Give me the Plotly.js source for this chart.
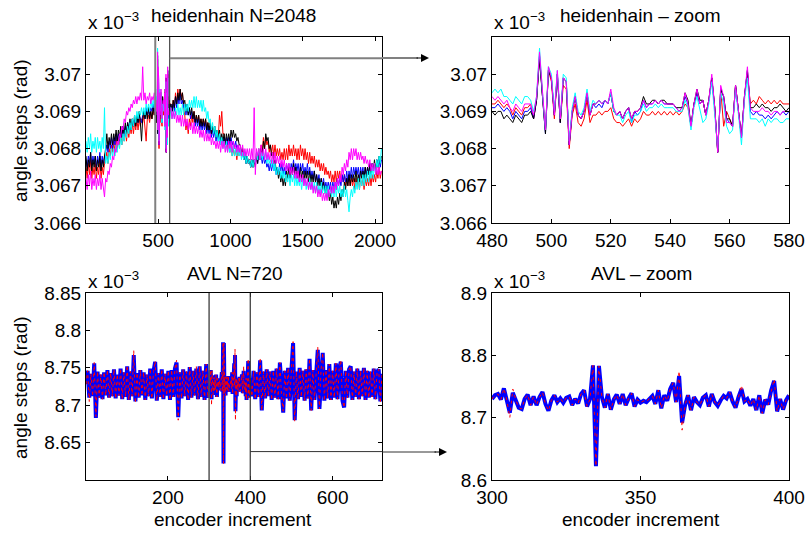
<!DOCTYPE html>
<html><head><meta charset="utf-8">
<script src="https://cdn.plot.ly/plotly-3.0.1.min.js"></script>
<style>html,body{margin:0;padding:0;background:#fff}#chart{width:807px;height:533px}</style>
</head><body><div id="chart"></div>
<script>
// ---------- heidenhain N=2048 (values in units of 1e-3 rad) ----------
const heidStep = 8, heidLeftStart = 1, heidZoomStart = 480, heidRightStart = 588;
const redL = [3.0675,3.0672,3.0676,3.0673,3.0677,3.0672,3.0675,3.0673,3.0676,3.0672,
3.0675,3.0673,3.0677,3.0672,3.0675,3.0673,3.0676,3.0677,3.0679,3.0676,
3.0680,3.0678,3.0681,3.0679,3.0682,3.0679,3.0683,3.0680,3.0683,3.0681,
3.0684,3.0681,3.0684,3.0682,3.0685,3.0682,3.0686,3.0683,3.0686,3.0684,
3.0687,3.0684,3.0687,3.0685,3.0688,3.0685,3.0688,3.0686,3.0688,3.0687,
3.0689,3.0686,3.0682,3.0688,3.0689,3.0687,3.0690,3.0688,3.0690,3.0689];
const blueL = [3.0677,3.0675,3.0678,3.0676,3.0679,3.0675,3.0678,3.0676,3.0678,3.0675,
3.0678,3.0676,3.0679,3.0675,3.0678,3.0676,3.0678,3.0679,3.0681,3.0679,
3.0682,3.0680,3.0683,3.0680,3.0683,3.0681,3.0684,3.0682,3.0684,3.0682,
3.0685,3.0683,3.0686,3.0683,3.0686,3.0684,3.0687,3.0685,3.0687,3.0685,
3.0688,3.0686,3.0688,3.0687,3.0689,3.0687,3.0689,3.0688,3.0687,3.0689,
3.0690,3.0688,3.0691,3.0689,3.0691,3.0689,3.0691,3.0690,3.0692,3.0690];
const blackL = [3.0678,3.0674,3.0677,3.0675,3.0679,3.0674,3.0677,3.0675,3.0678,3.0674,
3.0677,3.0675,3.0678,3.0674,3.0677,3.0675,3.0678,3.0680,3.0684,3.0680,
3.0683,3.0681,3.0684,3.0681,3.0684,3.0682,3.0685,3.0682,3.0685,3.0683,
3.0686,3.0683,3.0686,3.0684,3.0687,3.0684,3.0687,3.0685,3.0688,3.0685,
3.0688,3.0686,3.0689,3.0686,3.0689,3.0687,3.0690,3.0687,3.0682,3.0688,
3.0690,3.0688,3.0690,3.0688,3.0691,3.0688,3.0690,3.0688,3.0691,3.0689];
const cyanL = [3.0682,3.0679,3.0683,3.0680,3.0684,3.0679,3.0682,3.0680,3.0683,3.0679,
3.0683,3.0680,3.0682,3.0679,3.0683,3.0680,3.0691,3.0676,3.0678,3.0676,
3.0679,3.0677,3.0680,3.0678,3.0680,3.0678,3.0681,3.0679,3.0682,3.0680,
3.0683,3.0681,3.0684,3.0682,3.0685,3.0683,3.0686,3.0684,3.0687,3.0685,
3.0688,3.0686,3.0689,3.0687,3.0690,3.0688,3.0690,3.0689,3.0691,3.0689,
3.0691,3.0689,3.0692,3.0690,3.0692,3.0690,3.0693,3.0691,3.0693,3.0691];
const magentaL = [3.0672,3.0669,3.0673,3.0670,3.0674,3.0669,3.0672,3.0670,3.0673,3.0669,
3.0672,3.0670,3.0673,3.0669,3.0672,3.0670,3.0667,3.0672,3.0671,3.0674,
3.0673,3.0676,3.0675,3.0678,3.0677,3.0680,3.0679,3.0682,3.0681,3.0684,
3.0683,3.0686,3.0685,3.0688,3.0687,3.0690,3.0689,3.0691,3.0690,3.0692,
3.0691,3.0693,3.0692,3.0694,3.0692,3.0694,3.0693,3.0695,3.0693,3.0702,
3.0693,3.0695,3.0692,3.0694,3.0693,3.0695,3.0692,3.0694,3.0693,3.0695];

const redZ = [3.0692,3.0692,3.0693,3.0692,3.0691,3.0692,3.0691,3.0689,3.0691,3.0690,3.0689,3.0691,3.0691,3.0692,3.0688,
3.0693,3.0705,3.0694,3.0685,3.0701,3.0698,3.0688,3.0700,3.0687,3.0697,3.0696,3.0680,3.0689,3.0692,3.0687,3.0686,3.0688,3.0693,3.0687,
3.0689,3.0689,3.0690,3.0689,3.0690,3.0690,3.0691,3.0688,3.0687,3.0687,3.0686,3.0687,3.0688,3.0686,3.0688,3.0687,3.0688,
3.0690,3.0689,3.0689,3.0690,3.0689,3.0690,3.0689,3.0690,3.0689,3.0690,3.0689,3.0690,3.0689,
3.0690,3.0692,3.0691,3.0686,3.0692,3.0695,3.0692,3.0693,3.0689,3.0693,3.0699,3.0691,3.0679,3.0696,3.0686,3.0690,3.0688,3.0686,3.0697,3.0690,3.0683,3.0694,3.0700,
3.0692,3.0693,3.0692,3.0694,3.0693,3.0692,3.0693,3.0692,3.0693,3.0692,3.0693,3.0692,3.0692,3.0692];
const blueZ = [3.0691,3.0691,3.0692,3.0691,3.0690,3.0691,3.0690,3.0688,3.0690,3.0689,3.0688,3.0690,3.0690,3.0691,3.0688,
3.0693,3.0705,3.0694,3.0684,3.0701,3.0699,3.0689,3.0700,3.0687,3.0699,3.0698,3.0681,3.0690,3.0694,3.0689,3.0688,3.0690,3.0695,3.0689,
3.0692,3.0691,3.0692,3.0691,3.0693,3.0692,3.0695,3.0690,3.0689,3.0690,3.0688,3.0690,3.0691,3.0687,3.0690,3.0689,3.0690,
3.0693,3.0691,3.0692,3.0692,3.0693,3.0692,3.0693,3.0692,3.0692,3.0692,3.0692,3.0691,3.0690,
3.0691,3.0694,3.0692,3.0686,3.0692,3.0695,3.0692,3.0693,3.0689,3.0693,3.0699,3.0691,3.0679,3.0696,3.0694,3.0688,3.0687,3.0686,3.0697,3.0690,3.0683,3.0694,3.0701,
3.0690,3.0689,3.0690,3.0689,3.0689,3.0688,3.0689,3.0688,3.0689,3.0690,3.0689,3.0690,3.0689,3.0690];
const blackZ = [3.0690,3.0689,3.0690,3.0690,3.0688,3.0689,3.0688,3.0687,3.0689,3.0688,3.0687,3.0689,3.0689,3.0690,3.0688,
3.0693,3.0704,3.0694,3.0684,3.0701,3.0699,3.0689,3.0700,3.0687,3.0699,3.0698,3.0681,3.0690,3.0694,3.0689,3.0688,3.0690,3.0695,3.0689,
3.0692,3.0692,3.0693,3.0692,3.0693,3.0692,3.0695,3.0690,3.0689,3.0690,3.0688,3.0690,3.0691,3.0688,3.0690,3.0690,3.0691,
3.0694,3.0692,3.0692,3.0693,3.0693,3.0692,3.0693,3.0693,3.0692,3.0692,3.0692,3.0691,3.0691,
3.0691,3.0695,3.0693,3.0686,3.0692,3.0696,3.0693,3.0693,3.0689,3.0693,3.0699,3.0691,3.0679,3.0696,3.0694,3.0688,3.0688,3.0686,3.0697,3.0690,3.0683,3.0694,3.0701,
3.0691,3.0691,3.0692,3.0691,3.0692,3.0691,3.0691,3.0690,3.0691,3.0691,3.0692,3.0691,3.0690,3.0691];
const cyanZ = [3.0695,3.0696,3.0695,3.0696,3.0694,3.0694,3.0693,3.0692,3.0694,3.0693,3.0692,3.0694,3.0694,3.0693,3.0690,
3.0694,3.0707,3.0695,3.0685,3.0702,3.0700,3.0690,3.0701,3.0688,3.0700,3.0699,3.0682,3.0691,3.0695,3.0690,3.0689,3.0691,3.0696,3.0690,
3.0693,3.0692,3.0693,3.0692,3.0693,3.0692,3.0695,3.0690,3.0689,3.0689,3.0687,3.0689,3.0690,3.0687,3.0689,3.0689,3.0690,
3.0692,3.0690,3.0691,3.0691,3.0692,3.0691,3.0692,3.0691,3.0691,3.0691,3.0691,3.0690,3.0690,
3.0690,3.0693,3.0691,3.0685,3.0691,3.0694,3.0690,3.0687,3.0688,3.0692,3.0698,3.0690,3.0680,3.0695,3.0692,3.0686,3.0684,3.0685,3.0696,3.0689,3.0681,3.0693,3.0699,
3.0688,3.0688,3.0688,3.0687,3.0688,3.0686,3.0688,3.0687,3.0688,3.0688,3.0687,3.0687,3.0688,3.0688];
const magentaZ = [3.0694,3.0693,3.0694,3.0693,3.0692,3.0693,3.0691,3.0690,3.0692,3.0691,3.0690,3.0692,3.0692,3.0692,3.0689,
3.0694,3.0706,3.0694,3.0685,3.0702,3.0699,3.0689,3.0701,3.0688,3.0699,3.0698,3.0681,3.0690,3.0694,3.0689,3.0688,3.0690,3.0695,3.0689,
3.0692,3.0692,3.0693,3.0692,3.0693,3.0692,3.0696,3.0691,3.0689,3.0690,3.0688,3.0690,3.0691,3.0688,3.0690,3.0690,3.0691,
3.0693,3.0691,3.0692,3.0692,3.0693,3.0692,3.0693,3.0692,3.0692,3.0692,3.0692,3.0691,3.0690,
3.0691,3.0695,3.0692,3.0686,3.0692,3.0696,3.0692,3.0693,3.0689,3.0693,3.0700,3.0691,3.0679,3.0697,3.0694,3.0687,3.0687,3.0686,3.0697,3.0690,3.0683,3.0694,3.0702,
3.0691,3.0690,3.0690,3.0690,3.0691,3.0690,3.0690,3.0689,3.0690,3.0690,3.0689,3.0690,3.0690,3.0690];

const redR = [3.0692,3.0690,3.0693,3.0691,3.0695,3.0692,3.0696,3.0693,3.0696,3.0694,
3.0695,3.0691,3.0689,3.0685,3.0687,3.0684,3.0688,3.0686,3.0689,3.0687,
3.0690,3.0687,3.0689,3.0687,3.0689,3.0686,3.0688,3.0686,3.0688,3.0686,
3.0688,3.0685,3.0687,3.0685,3.0686,3.0684,3.0686,3.0684,3.0685,3.0683,
3.0685,3.0683,3.0689,3.0686,3.0690,3.0684,3.0684,3.0681,3.0683,3.0680,
3.0682,3.0679,3.0681,3.0678,3.0680,3.0678,3.0680,3.0677,3.0680,3.0678,
3.0680,3.0678,3.0680,3.0677,3.0679,3.0677,3.0678,3.0676,3.0677,3.0675,
3.0677,3.0675,3.0677,3.0676,3.0679,3.0677,3.0680,3.0678,3.0681,3.0679,
3.0683,3.0680,3.0683,3.0681,3.0682,3.0679,3.0681,3.0679,3.0681,3.0678,
3.0681,3.0678,3.0680,3.0678,3.0680,3.0677,3.0679,3.0677,3.0680,3.0677,
3.0680,3.0677,3.0681,3.0678,3.0680,3.0678,3.0681,3.0678,3.0680,3.0677,
3.0680,3.0677,3.0681,3.0678,3.0680,3.0677,3.0680,3.0677,3.0679,3.0676,
3.0679,3.0676,3.0678,3.0676,3.0678,3.0675,3.0677,3.0675,3.0677,3.0674,
3.0676,3.0674,3.0676,3.0673,3.0675,3.0673,3.0674,3.0672,3.0674,3.0671,
3.0673,3.0671,3.0674,3.0671,3.0674,3.0672,3.0674,3.0671,3.0673,3.0671,
3.0673,3.0670,3.0672,3.0670,3.0673,3.0670,3.0672,3.0670,3.0672,3.0669,
3.0672,3.0670,3.0672,3.0669,3.0672,3.0670,3.0672,3.0669,3.0672,3.0670,
3.0672,3.0670,3.0673,3.0670,3.0673,3.0671,3.0673,3.0671,3.0674,3.0672,
3.0675,3.0672,3.0674];
const blueR = [3.0692,3.0690,3.0692,3.0690,3.0694,3.0691,3.0694,3.0692,3.0695,3.0692,
3.0693,3.0691,3.0692,3.0689,3.0691,3.0689,3.0691,3.0688,3.0690,3.0688,
3.0689,3.0686,3.0688,3.0686,3.0688,3.0685,3.0687,3.0685,3.0687,3.0685,
3.0687,3.0684,3.0686,3.0684,3.0686,3.0683,3.0685,3.0683,3.0685,3.0682,
3.0684,3.0682,3.0684,3.0681,3.0683,3.0681,3.0683,3.0681,3.0683,3.0681,
3.0683,3.0681,3.0683,3.0681,3.0682,3.0680,3.0682,3.0680,3.0681,3.0679,
3.0680,3.0678,3.0679,3.0677,3.0678,3.0676,3.0678,3.0676,3.0677,3.0675,
3.0677,3.0675,3.0677,3.0676,3.0678,3.0676,3.0679,3.0677,3.0678,3.0676,
3.0678,3.0676,3.0677,3.0675,3.0676,3.0674,3.0676,3.0674,3.0676,3.0674,
3.0676,3.0673,3.0675,3.0673,3.0676,3.0674,3.0676,3.0673,3.0675,3.0673,
3.0676,3.0674,3.0676,3.0673,3.0676,3.0674,3.0677,3.0674,3.0676,3.0674,
3.0676,3.0673,3.0676,3.0674,3.0676,3.0673,3.0675,3.0673,3.0676,3.0673,
3.0675,3.0672,3.0674,3.0672,3.0674,3.0671,3.0673,3.0671,3.0673,3.0670,
3.0672,3.0670,3.0672,3.0669,3.0671,3.0669,3.0671,3.0669,3.0671,3.0668,
3.0671,3.0669,3.0671,3.0669,3.0672,3.0670,3.0672,3.0670,3.0673,3.0671,
3.0673,3.0671,3.0674,3.0671,3.0674,3.0672,3.0675,3.0672,3.0675,3.0673,
3.0675,3.0673,3.0675,3.0672,3.0675,3.0673,3.0675,3.0672,3.0675,3.0673,
3.0675,3.0673,3.0676,3.0674,3.0676,3.0674,3.0676,3.0674,3.0677,3.0675,
3.0677,3.0675,3.0677];
const blackR = [3.0692,3.0690,3.0693,3.0691,3.0694,3.0692,3.0695,3.0693,3.0696,3.0693,
3.0695,3.0692,3.0693,3.0690,3.0692,3.0689,3.0691,3.0689,3.0691,3.0688,
3.0690,3.0687,3.0689,3.0687,3.0689,3.0686,3.0688,3.0686,3.0688,3.0686,
3.0688,3.0685,3.0687,3.0685,3.0687,3.0684,3.0686,3.0684,3.0686,3.0683,
3.0685,3.0683,3.0685,3.0682,3.0684,3.0682,3.0684,3.0681,3.0684,3.0682,
3.0684,3.0682,3.0685,3.0683,3.0685,3.0683,3.0684,3.0682,3.0683,3.0681,
3.0681,3.0679,3.0680,3.0677,3.0679,3.0676,3.0678,3.0676,3.0677,3.0675,
3.0677,3.0675,3.0677,3.0675,3.0678,3.0676,3.0679,3.0677,3.0680,3.0678,
3.0682,3.0680,3.0684,3.0682,3.0683,3.0680,3.0681,3.0678,3.0679,3.0676,
3.0677,3.0674,3.0675,3.0672,3.0674,3.0671,3.0673,3.0670,3.0672,3.0670,
3.0674,3.0672,3.0675,3.0672,3.0675,3.0673,3.0676,3.0673,3.0675,3.0672,
3.0674,3.0672,3.0675,3.0672,3.0674,3.0671,3.0674,3.0672,3.0674,3.0671,
3.0674,3.0671,3.0673,3.0671,3.0674,3.0671,3.0673,3.0670,3.0672,3.0670,
3.0672,3.0669,3.0671,3.0668,3.0670,3.0667,3.0669,3.0666,3.0668,3.0665,
3.0667,3.0664,3.0666,3.0664,3.0667,3.0665,3.0668,3.0666,3.0669,3.0667,
3.0671,3.0669,3.0672,3.0670,3.0673,3.0670,3.0673,3.0671,3.0673,3.0671,
3.0674,3.0671,3.0673,3.0671,3.0674,3.0672,3.0674,3.0672,3.0675,3.0672,
3.0675,3.0673,3.0676,3.0673,3.0676,3.0674,3.0677,3.0674,3.0677,3.0675,
3.0678,3.0676,3.0678];
const cyanR = [3.0691,3.0688,3.0690,3.0688,3.0691,3.0689,3.0692,3.0689,3.0691,3.0689,
3.0692,3.0689,3.0692,3.0690,3.0692,3.0690,3.0693,3.0691,3.0693,3.0691,
3.0694,3.0691,3.0694,3.0691,3.0693,3.0691,3.0693,3.0690,3.0693,3.0690,
3.0691,3.0688,3.0690,3.0687,3.0688,3.0685,3.0687,3.0684,3.0686,3.0683,
3.0685,3.0682,3.0684,3.0681,3.0683,3.0680,3.0682,3.0680,3.0682,3.0679,
3.0681,3.0679,3.0681,3.0678,3.0681,3.0678,3.0680,3.0678,3.0680,3.0678,
3.0680,3.0677,3.0679,3.0677,3.0679,3.0676,3.0678,3.0676,3.0677,3.0675,
3.0677,3.0675,3.0677,3.0676,3.0679,3.0677,3.0680,3.0677,3.0679,3.0677,
3.0679,3.0677,3.0679,3.0676,3.0678,3.0676,3.0677,3.0675,3.0677,3.0674,
3.0676,3.0673,3.0675,3.0673,3.0675,3.0672,3.0674,3.0672,3.0674,3.0671,
3.0673,3.0671,3.0673,3.0670,3.0673,3.0671,3.0673,3.0670,3.0673,3.0670,
3.0672,3.0670,3.0672,3.0669,3.0672,3.0670,3.0672,3.0669,3.0671,3.0669,
3.0672,3.0669,3.0671,3.0669,3.0671,3.0668,3.0671,3.0668,3.0670,3.0668,
3.0671,3.0668,3.0670,3.0668,3.0670,3.0667,3.0670,3.0667,3.0669,3.0667,
3.0670,3.0667,3.0670,3.0667,3.0670,3.0668,3.0670,3.0667,3.0669,3.0667,
3.0670,3.0667,3.0669,3.0666,3.0663,3.0667,3.0669,3.0667,3.0670,3.0668,
3.0671,3.0669,3.0672,3.0669,3.0672,3.0670,3.0673,3.0670,3.0673,3.0671,
3.0674,3.0671,3.0674,3.0672,3.0675,3.0672,3.0676,3.0673,3.0677,3.0675,
3.0678,3.0676,3.0680];
const magentaR = [3.0691,3.0688,3.0690,3.0688,3.0690,3.0687,3.0689,3.0687,3.0689,3.0686,
3.0689,3.0686,3.0688,3.0686,3.0688,3.0685,3.0687,3.0685,3.0687,3.0684,
3.0687,3.0684,3.0686,3.0684,3.0686,3.0683,3.0685,3.0683,3.0685,3.0682,
3.0685,3.0682,3.0684,3.0682,3.0684,3.0681,3.0683,3.0681,3.0682,3.0680,
3.0682,3.0680,3.0682,3.0679,3.0682,3.0680,3.0682,3.0679,3.0681,3.0679,
3.0682,3.0680,3.0682,3.0679,3.0682,3.0680,3.0681,3.0679,3.0681,3.0679,
3.0681,3.0678,3.0681,3.0678,3.0680,3.0678,3.0680,3.0678,3.0680,3.0677,
3.0680,3.0677,3.0691,3.0673,3.0680,3.0678,3.0680,3.0677,3.0681,3.0678,
3.0680,3.0677,3.0680,3.0677,3.0679,3.0677,3.0679,3.0676,3.0679,3.0676,
3.0679,3.0676,3.0678,3.0676,3.0678,3.0675,3.0677,3.0675,3.0677,3.0674,
3.0676,3.0674,3.0676,3.0673,3.0675,3.0673,3.0675,3.0672,3.0674,3.0672,
3.0674,3.0671,3.0673,3.0671,3.0673,3.0670,3.0672,3.0670,3.0672,3.0669,
3.0671,3.0669,3.0671,3.0668,3.0670,3.0668,3.0670,3.0667,3.0669,3.0667,
3.0669,3.0666,3.0668,3.0666,3.0668,3.0666,3.0669,3.0667,3.0670,3.0668,
3.0670,3.0668,3.0671,3.0669,3.0672,3.0670,3.0673,3.0671,3.0675,3.0673,
3.0676,3.0674,3.0677,3.0675,3.0679,3.0677,3.0680,3.0677,3.0680,3.0678,
3.0680,3.0677,3.0679,3.0677,3.0679,3.0677,3.0678,3.0676,3.0678,3.0676,
3.0677,3.0675,3.0677,3.0674,3.0676,3.0674,3.0676,3.0673,3.0675,3.0673,
3.0675,3.0673,3.0674];

// ---------- AVL N=720 (values in units of 1e-3 rad) ----------
const avlStep = 4, avlLeftStart = 1, avlZoomStart = 300, avlRightStart = 404;
const avlBlueL = [8.728,8.746,8.710,8.742,8.712,8.756,8.683,8.745,8.710,8.741,
8.708,8.744,8.713,8.747,8.710,8.743,8.712,8.748,8.709,8.741,
8.713,8.749,8.708,8.744,8.711,8.752,8.707,8.745,8.712,8.767,
8.705,8.743,8.710,8.747,8.713,8.744,8.707,8.741,8.712,8.749,
8.709,8.745,8.758,8.706,8.743,8.711,8.748,8.708,8.742,8.713,
8.746,8.707,8.747,8.711,8.749,8.757,8.684,8.744,8.709,8.748,
8.712,8.745,8.707,8.751,8.710,8.746,8.713,8.749,8.708,8.752,
8.711,8.746,8.707,8.755,8.710];
const avlRedL = [8.728,8.746,8.705,8.742,8.712,8.757,8.685,8.745,8.710,8.741,
8.708,8.744,8.713,8.747,8.710,8.743,8.712,8.748,8.709,8.741,
8.713,8.749,8.708,8.744,8.711,8.753,8.707,8.745,8.712,8.773,
8.703,8.743,8.710,8.747,8.713,8.744,8.707,8.741,8.712,8.749,
8.709,8.745,8.759,8.706,8.743,8.711,8.748,8.708,8.742,8.713,
8.746,8.707,8.747,8.711,8.749,8.760,8.680,8.744,8.709,8.748,
8.712,8.745,8.707,8.751,8.710,8.746,8.713,8.752,8.708,8.752,
8.711,8.746,8.707,8.755,8.710];
const avlBlueZ = [8.730,8.736,8.738,8.729,8.747,8.728,8.708,8.740,8.729,8.716,
8.714,8.730,8.737,8.720,8.734,8.720,8.733,8.741,8.722,8.711,
8.728,8.736,8.725,8.731,8.724,8.732,8.734,8.720,8.730,8.723,
8.738,8.744,8.718,8.730,8.784,8.622,8.783,8.733,8.716,8.738,
8.713,8.729,8.737,8.722,8.738,8.720,8.731,8.739,8.718,8.729,
8.724,8.727,8.725,8.731,8.735,8.722,8.744,8.715,8.736,8.727,
8.746,8.756,8.725,8.767,8.692,8.720,8.736,8.712,8.733,8.725,
8.720,8.732,8.736,8.718,8.738,8.725,8.719,8.728,8.735,8.731,
8.741,8.726,8.716,8.733,8.746,8.726,8.730,8.719,8.730,8.712,
8.736,8.707,8.729,8.721,8.744,8.759,8.710,8.730,8.713,8.728,
8.736];
const avlRedZ = [8.730,8.736,8.738,8.729,8.747,8.728,8.700,8.746,8.729,8.716,
8.714,8.730,8.737,8.720,8.734,8.720,8.733,8.741,8.722,8.711,
8.728,8.736,8.725,8.731,8.724,8.732,8.734,8.720,8.730,8.723,
8.738,8.744,8.718,8.730,8.784,8.622,8.783,8.733,8.716,8.738,
8.713,8.729,8.737,8.722,8.738,8.720,8.731,8.739,8.718,8.729,
8.724,8.727,8.725,8.731,8.735,8.722,8.744,8.715,8.736,8.727,
8.746,8.756,8.725,8.775,8.680,8.720,8.736,8.712,8.733,8.725,
8.720,8.732,8.736,8.718,8.738,8.725,8.719,8.728,8.735,8.731,
8.741,8.726,8.716,8.733,8.752,8.726,8.730,8.719,8.730,8.712,
8.736,8.707,8.729,8.721,8.744,8.762,8.710,8.730,8.713,8.728,
8.736];
const avlBlueR = [8.712,8.746,8.708,8.744,8.711,8.760,8.693,8.745,8.709,8.748,
8.712,8.745,8.707,8.746,8.710,8.749,8.708,8.757,8.711,8.690,
8.746,8.709,8.750,8.706,8.747,8.783,8.680,8.745,8.708,8.750,
8.711,8.746,8.706,8.748,8.709,8.762,8.693,8.747,8.707,8.752,
8.774,8.695,8.748,8.770,8.706,8.747,8.709,8.755,8.707,8.746,
8.710,8.756,8.708,8.749,8.758,8.706,8.697,8.746,8.710,8.748,
8.752,8.707,8.745,8.711,8.749,8.708,8.746,8.712,8.750,8.707,
8.746,8.710,8.745,8.711,8.749,8.708,8.744,8.748,8.705,8.742];
const avlRedR = [8.712,8.746,8.708,8.744,8.711,8.763,8.693,8.745,8.709,8.748,
8.712,8.745,8.707,8.746,8.710,8.749,8.708,8.757,8.711,8.692,
8.746,8.709,8.750,8.706,8.747,8.785,8.678,8.745,8.708,8.750,
8.711,8.746,8.706,8.748,8.709,8.762,8.693,8.747,8.707,8.752,
8.778,8.695,8.748,8.770,8.706,8.747,8.709,8.755,8.707,8.746,
8.710,8.756,8.708,8.749,8.760,8.706,8.697,8.746,8.710,8.748,
8.752,8.707,8.745,8.711,8.749,8.708,8.746,8.712,8.750,8.707,
8.746,8.710,8.745,8.711,8.749,8.708,8.744,8.748,8.703,8.742];

// ---------- tick labels ----------
const heidYTicks = [3.066,3.067,3.068,3.069,3.07];
const heidYText = ['3.066','3.067','3.068','3.069','3.07'];
const heidXTicks = [500,1000,1500,2000];
const heidZoomXTicks = [480,500,520,540,560,580];
const avlYTicks = [8.65,8.7,8.75,8.8,8.85];
const avlYText = ['8.65','8.7','8.75','8.8','8.85'];
const avlXTicks = [200,400,600];
const avlZoomYTicks = [8.6,8.7,8.8,8.9];
const avlZoomYText = ['8.6','8.7','8.8','8.9'];
const avlZoomXTicks = [300,350,400];

// ---------- assemble series ----------
function seq(start, step, n){ const a=[]; for(let i=0;i<n;i++) a.push(start+i*step); return a; }
function joined(L,Z,R,ls,step,zs,rs){
  return { x: seq(ls,step,L.length).concat(seq(zs,1,Z.length), seq(rs,step,R.length)), y: L.concat(Z,R) };
}
const heid = [
  ['#ff0000', redL, redZ, redR],
  ['#0000ff', blueL, blueZ, blueR],
  ['#000000', blackL, blackZ, blackR],
  ['#00ffff', cyanL, cyanZ, cyanR],
  ['#ff00ff', magentaL, magentaZ, magentaR]
];
const traces = [];
heid.forEach(([c,L,Z,R])=>{
  const f = joined(L,Z,R,heidLeftStart,heidStep,heidZoomStart,heidRightStart);
  traces.push({type:'scatter', mode:'lines', x:f.x, y:f.y, xaxis:'x', yaxis:'y', line:{color:c, width:1}, hoverinfo:'skip'});
});
heid.forEach(([c,L,Z,R])=>{
  traces.push({type:'scatter', mode:'lines', x:seq(heidZoomStart,1,Z.length), y:Z, xaxis:'x2', yaxis:'y2', line:{color:c, width:1}, hoverinfo:'skip'});
});
const ab = joined(avlBlueL, avlBlueZ, avlBlueR, avlLeftStart, avlStep, avlZoomStart, avlRightStart);
const ar = joined(avlRedL, avlRedZ, avlRedR, avlLeftStart, avlStep, avlZoomStart, avlRightStart);
traces.push({type:'scatter', mode:'lines', x:ab.x, y:ab.y, xaxis:'x3', yaxis:'y3', line:{color:'#0000ff', width:4}, hoverinfo:'skip'});
traces.push({type:'scatter', mode:'lines', x:ar.x, y:ar.y, xaxis:'x3', yaxis:'y3', line:{color:'#ff0000', width:1, dash:'3px,3px'}, hoverinfo:'skip'});
traces.push({type:'scatter', mode:'lines', x:seq(avlZoomStart,1,avlBlueZ.length), y:avlBlueZ, xaxis:'x4', yaxis:'y4', line:{color:'#0000ff', width:4}, hoverinfo:'skip'});
traces.push({type:'scatter', mode:'lines', x:seq(avlZoomStart,1,avlRedZ.length), y:avlRedZ, xaxis:'x4', yaxis:'y4', line:{color:'#ff0000', width:1, dash:'3px,4px'}, hoverinfo:'skip'});

// ---------- layout ----------
const W = 807, H = 533;
const FONT = 'Liberation Sans, Arial, Helvetica, sans-serif';
const colL = [86/W, 382/W], colR = [492/W, 789/W];
const rowT = [1-223/H, 1-37/H], rowB = [1-480/H, 1-293/H];
function ax(o){
  return Object.assign({showline:true, linecolor:'#000', linewidth:1, mirror:'ticks', ticks:'inside', ticklen:4,
    tickcolor:'#000', tickwidth:1, showgrid:false, zeroline:false, fixedrange:true,
    tickfont:{family:FONT, size:19, color:'#000'}}, o);
}
const px = v => v/W, py = v => 1 - v/H;
function ann(text, x, y, o){ return Object.assign({text, x, y, xref:'paper', yref:'paper', showarrow:false,
  font:{family:FONT, size:19, color:'#000'}, xanchor:'center', yanchor:'middle'}, o||{}); }

const layout = {
  width: W, height: H, margin:{l:0,r:0,t:0,b:0}, paper_bgcolor:'#fff', plot_bgcolor:'#fff', showlegend:false,
  font:{family:FONT, size:19, color:'#000'},
  xaxis: ax({domain:colL, range:[1,2048], tickvals:heidXTicks, anchor:'y'}),
  yaxis: ax({domain:rowT, range:[3.066,3.071], tickvals:heidYTicks, ticktext:heidYText, anchor:'x'}),
  xaxis2: ax({domain:colR, range:[480,580], tickvals:heidZoomXTicks, anchor:'y2'}),
  yaxis2: ax({domain:rowT, range:[3.066,3.071], tickvals:heidYTicks, ticktext:heidYText, anchor:'x2'}),
  xaxis3: ax({domain:colL, range:[1,720], tickvals:avlXTicks, anchor:'y3'}),
  yaxis3: ax({domain:rowB, range:[8.6,8.85], tickvals:avlYTicks, ticktext:avlYText, anchor:'x3'}),
  xaxis4: ax({domain:colR, range:[300,400], tickvals:avlZoomXTicks, anchor:'y4'}),
  yaxis4: ax({domain:rowB, range:[8.6,8.9], tickvals:avlZoomYTicks, ticktext:avlZoomYText, anchor:'x4'}),
  shapes: [
    {type:'line', xref:'x', yref:'y domain', x0:480, x1:480, y0:0, y1:1, line:{color:'#808080', width:2}},
    {type:'line', xref:'x', yref:'y domain', x0:580, x1:580, y0:0, y1:1, line:{color:'#222', width:1}},
    {type:'line', xref:'x', yref:'y', x0:580, x1:2048, y0:3.07043, y1:3.07043, line:{color:'#808080', width:2}},
    {type:'line', xref:'paper', yref:'paper', x0:px(382), x1:px(418), y0:py(58), y1:py(58), line:{color:'#808080', width:2}},
    {type:'line', xref:'x3', yref:'y3 domain', x0:300, x1:300, y0:0, y1:1, line:{color:'#555', width:1.5}},
    {type:'line', xref:'x3', yref:'y3 domain', x0:400, x1:400, y0:0, y1:1, line:{color:'#333', width:1.2}},
    {type:'line', xref:'x3', yref:'y3', x0:400, x1:720, y0:8.638, y1:8.638, line:{color:'#333', width:1}},
    {type:'line', xref:'paper', yref:'paper', x0:px(382), x1:px(436), y0:py(452), y1:py(452), line:{color:'#333', width:1}}
  ],
  annotations: [
    ann('heidenhain N=2048', px(233), py(16)),
    ann('x 10<sup>−3</sup>', px(86), py(21), {xanchor:'left'}),
    ann('heidenhain – zoom', px(640), py(16)),
    ann('x 10<sup>−3</sup>', px(492), py(21), {xanchor:'left'}),
    ann('AVL N=720', px(235), py(273)),
    ann('x 10<sup>−3</sup>', px(86), py(280), {xanchor:'left'}),
    ann('AVL – zoom', px(641), py(273)),
    ann('x 10<sup>−3</sup>', px(492), py(280), {xanchor:'left'}),
    ann('encoder increment', px(233), py(519)),
    ann('encoder increment', px(641), py(519)),
    ann('angle steps (rad)', px(20), py(131), {textangle:-90}),
    ann('angle steps (rad)', px(20), py(388), {textangle:-90}),
    {x:px(429), y:py(58), xref:'paper', yref:'paper', ax:-14, ay:0, text:'', showarrow:true, arrowhead:2, arrowsize:1.6, arrowwidth:1, arrowcolor:'#000'},
    {x:px(447), y:py(452), xref:'paper', yref:'paper', ax:-14, ay:0, text:'', showarrow:true, arrowhead:2, arrowsize:1.6, arrowwidth:1, arrowcolor:'#000'}
  ]
};
Plotly.newPlot('chart', traces, layout, {displayModeBar:false, staticPlot:true});
</script></body></html>
